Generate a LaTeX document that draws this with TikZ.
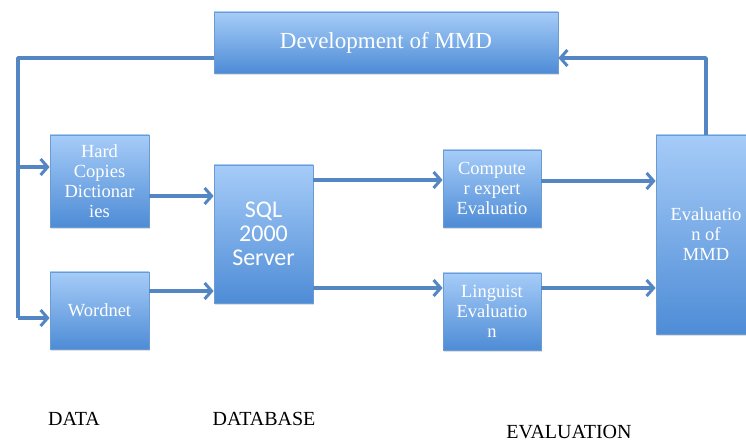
\documentclass[tikz,border=0pt]{standalone}
\usepackage{fontspec}
\setmainfont{Liberation Serif}
\newfontfamily\boxsans{Carlito}
\usetikzlibrary{arrows.meta,shadows}

\definecolor{boxtop}{HTML}{A6CCF8}
\definecolor{boxbot}{HTML}{4E8CD6}
\definecolor{boxedge}{HTML}{6A9BD2}
\definecolor{linkblue}{HTML}{5486C4}

\tikzset{
  blockbox/.style={draw=boxedge, line width=0.8pt, top color=boxtop, bottom color=boxbot,
    text=white, align=center, inner sep=2pt,
    drop shadow={opacity=0.25, shadow xshift=1.2pt, shadow yshift=-1.8pt}},
  smalltxt/.style={font=\fontsize{18.5}{20}\selectfont},
  conn/.style={draw=linkblue, line width=3.6pt, line join=round,
    -{Straight Barb[length=7pt, width=16pt, line width=3pt]}},
  plain/.style={draw=linkblue, line width=3.6pt, line join=round},
  stage/.style={font=\fontsize{20}{22}\selectfont, text=black}
}

\begin{document}
\begin{tikzpicture}[x=1pt, y=-1pt]
  \useasboundingbox (0,0) rectangle (746,443);
  \fill[white] (0,0) rectangle (746,443);

  % blocks
  \node[blockbox, minimum width=344pt, minimum height=61pt,
        font=\fontsize{23}{24}\selectfont] (dev) at (386,42.5) {Development of MMD};
  \node[blockbox, smalltxt, minimum width=99pt, minimum height=92pt] (hard) at (99.5,181)
        {Hard\\Copies\\Dictionar\\ies};
  \node[blockbox, smalltxt, minimum width=99pt, minimum height=77pt] (word) at (99.5,310.5)
        {Wordnet};
  \node[blockbox, minimum width=99pt, minimum height=138pt,
        font=\boxsans\fontsize{24}{24}\selectfont] (sql) at (263.5,234) {SQL\\2000\\Server};
  \node[blockbox, smalltxt, minimum width=98pt, minimum height=77pt] (comp) at (492,188.5)
        {Compute\\r expert\\Evaluatio};
  \node[blockbox, smalltxt, minimum width=98pt, minimum height=77pt] (ling) at (492,311.5)
        {Linguist\\Evaluatio\\n};
  \node[blockbox, smalltxt, minimum width=100pt, minimum height=199pt] (eval) at (706,234.5)
        {Evaluatio\\n of\\MMD};

  % junction points of the feedback loops
  \coordinate (loopL) at (18,58);
  \coordinate (loopR) at (706,58);
  \coordinate (hardIn) at (18,167);
  \coordinate (wordIn) at (18,318);

  % feedback from development back to the data sources
  \draw[plain] (dev.west |- loopL) -- (loopL) -- (wordIn);
  \draw[conn] (wordIn) -- (word.west |- wordIn);
  \draw[conn] (hardIn) -- (hard.west |- hardIn);

  % data into the database
  \draw[conn] (hard.east |- 0,196) -- (sql.west |- 0,196);
  \draw[conn] (word.east |- 0,291) -- (sql.west |- 0,291);

  % database to the evaluations
  \draw[conn] (sql.east |- 0,180) -- (comp.west |- 0,180);
  \draw[conn] (sql.east |- 0,288) -- (ling.west |- 0,288);

  % evaluations to the overall evaluation
  \draw[conn] (comp.east |- 0,181) -- (eval.west |- 0,181);
  \draw[conn] (ling.east |- 0,288) -- (eval.west |- 0,288);

  % overall evaluation back to development
  \draw[conn] (eval.north) -- (loopR) -- (dev.east |- loopR);

  % stage labels
  \node[stage] (lblData) at (74,419) {DATA};
  \node[stage] (lblDb) at (264,419) {DATABASE};
  \node[stage] (lblEval) at (569,432) {EVALUATION};
\end{tikzpicture}
\end{document}
